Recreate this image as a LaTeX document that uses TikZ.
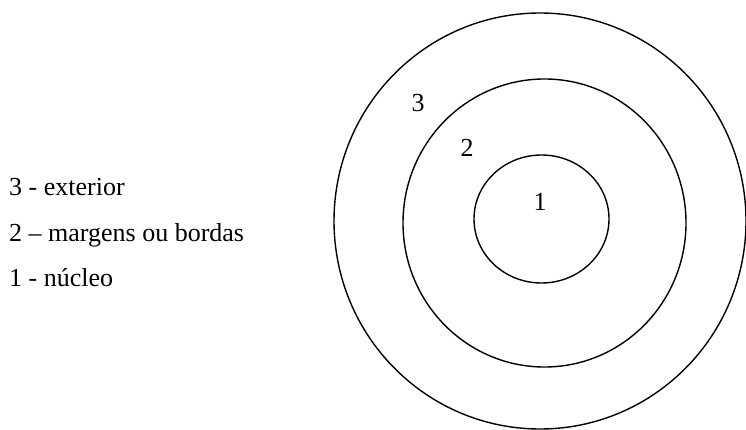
\documentclass[tikz,border=0pt]{standalone}
\usepackage{fontspec}
\setmainfont{Liberation Serif}
\usetikzlibrary{positioning}

\begin{document}
\begin{tikzpicture}[
  x=1pt, y=-1pt,
  ring/.style={draw=black, line width=1.4pt},
  num/.style={anchor=base, inner sep=0pt, font=\fontsize{26}{30}\selectfont},
  legend/.style={anchor=base west, inner sep=0pt, font=\fontsize{26}{30}\selectfont}
]
\useasboundingbox (0,0) rectangle (746,430);

% Rings
\draw[ring] (540,221) ellipse [x radius=206, y radius=208];
\draw[ring] (544.5,223) ellipse [x radius=141.5, y radius=144];
\draw[ring] (541.5,219) ellipse [x radius=67.5, y radius=64];

% Ring numbers
\node[num] (n3) at (418,112) {3};
\node[num] (n2) at (467,157) {2};
\node[num] (n1) at (540,211) {1};

% Legend
\node[legend] (l3) at (9,196) {3 - exterior};
\node[legend] (l2) at (9,241) {2 – margens ou bordas};
\node[legend] (l1) at (9,286) {1 - núcleo};

\end{tikzpicture}
\end{document}
